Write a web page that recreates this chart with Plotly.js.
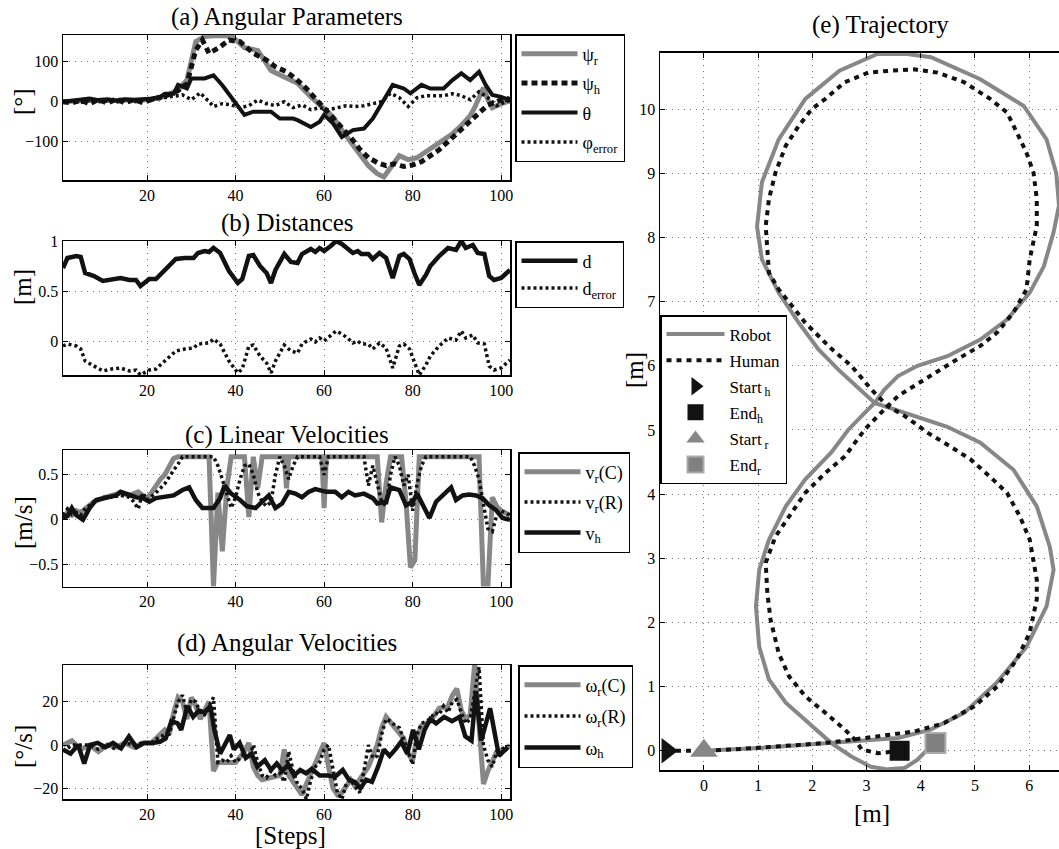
<!DOCTYPE html>
<html><head><meta charset="utf-8">
<script src="https://cdn.plot.ly/plotly-3.0.1.min.js"></script>
<style>html,body{margin:0;padding:0;background:#fff}#chart{width:1059px;height:849px}</style>
</head><body><div id="chart"></div>
<script>
// ---------- (a) Angular Parameters ----------
const psiR_x = [1,3,5,7,9,11,13,15,17,19,21,23,25,27,29,31,33,35,39,42,45,48,51,54,57,60,62,64,66,68,70,72,73.5,75,77,79,81,83,85,87,89,91,93,94,95,96,97,98,100,102];
const psiR_y = [0,2,3,4,3,2,3,4,3,4,6,10,18,30,54,150,163,165,165,135,128,78,62,46,12,-20,-38,-71,-100,-130,-160,-180,-188,-165,-135,-145,-140,-125,-110,-95,-80,-60,-35,-15,10,35,5,-15,-5,2];
const psiH_x = [1,3,5,7,9,11,13,15,17,19,21,23,25,27,29,31,32.5,34,36.5,38.5,41,44,47,49,51.5,53.5,56,58,60.5,62.5,64.5,66.5,68,70,72,74,76,78,80,82,84,86,88,90,92,94,95,97,99,101,102];
const psiH_y = [0,-3,4,-6,6,-4,7,-3,5,-2,5,10,18,28,45,129,154,121,137,154,150,121,104,87,75,58,33,8,-21,-46,-71,-96,-118,-140,-152,-160,-155,-162,-158,-150,-135,-120,-100,-80,-60,-40,-29,-8,0,10,5];
const theta_x = [1,3,5,7,9,11,13,15,17,19,21,23,24,26,27,29,30,33,35,37,39,41,42,44,48,50,53,54,57,59,60,62,64,66.5,69,71,73,75.5,78,79.5,82,84,87,89,91,93,95,96.5,98,100,102];
const theta_y = [0,3,5,8,4,6,3,6,4,5,8,12,20,20,42,33,58,58,66,41,12,-17,-33,-25,-25,-42,-42,-46,-63,-50,-33,-54,-88,-71,-67,-42,-4,42,33,21,42,33,33,54,71,54,75,42,17,12,4];
const phiE_x = [1,3,5,7,9,11,13,15,17,19,21,23,25,27,28,30,32,34,35,37,39,41,43,45,47,49,51,53,55,57,59,61,63,65,67,69,71,73,75,77,79,81,83,85,87,89,91,93,95,97,99,101,102];
const phiE_y = [0,2,-2,3,0,2,-1,3,0,2,4,8,12,15,17,5,22,0,-12,-5,-8,-15,-10,4,-5,-10,0,-15,-8,-20,-15,-20,-15,-10,-12,-10,-5,0,21,10,-12,10,15,15,15,20,15,5,25,10,-10,0,3];

// ---------- (b) Distances ----------
const dist_x = [1,2,4,5,6,8,10,12,14,16,17.5,18.5,20.5,22,24,26.5,28.5,30.5,31.5,33,34,35,36.5,38.5,40.5,41.5,43,44,45.5,47,48,49,51,52.5,54,55,57,58,59,60,61.5,62.7,64,65.3,66.5,67.6,68.4,70,71,72.5,74,75.5,77,78,79.3,80.4,81.5,83,84,86,88,89.8,91,92,93.6,94.7,96.2,97.3,98.4,100,102];
const dist_d = [0.73,0.83,0.85,0.84,0.68,0.65,0.60,0.62,0.63,0.61,0.61,0.55,0.62,0.62,0.71,0.82,0.83,0.83,0.88,0.90,0.89,0.93,0.88,0.70,0.58,0.62,0.85,0.86,0.75,0.68,0.58,0.71,0.87,0.79,0.78,0.87,0.92,0.89,0.93,0.90,0.95,1.0,0.97,0.93,0.88,0.90,0.87,0.87,0.82,0.88,0.83,0.63,0.85,0.87,0.82,0.68,0.56,0.66,0.75,0.85,0.93,0.91,1.0,0.93,0.96,0.88,0.87,0.65,0.61,0.63,0.71];
const dist_dErr = [-0.05,-0.03,-0.05,-0.08,-0.2,-0.25,-0.3,-0.28,-0.27,-0.3,-0.29,-0.34,-0.29,-0.28,-0.2,-0.1,-0.08,-0.07,-0.03,-0.02,-0.02,0.02,-0.03,-0.2,-0.32,-0.28,-0.05,-0.04,-0.15,-0.22,-0.32,-0.2,-0.04,-0.1,-0.12,-0.03,0.02,-0.01,0.03,0.0,0.05,0.1,0.07,0.03,-0.02,0.0,-0.03,-0.03,-0.08,-0.02,-0.07,-0.27,-0.05,-0.03,-0.08,-0.22,-0.34,-0.24,-0.15,-0.05,0.03,0.01,0.1,0.03,0.06,-0.02,-0.03,-0.25,-0.29,-0.27,-0.19];

// ---------- (c) Linear Velocities ----------
const vrC_x = [1,2,3,4,5,6,7,8,10,12,14,16,18,19,20,21,22,23,24,25,26,27,34,35,36,37,38,39,42,43,44,45,46,51,51.5,52,59.5,60,60.5,72,73,74,75,77.5,78.5,79.5,80.5,81.5,95,96,97,98,99,100,102];
const vrC_y = [0.02,0.08,0.05,0.1,0.08,0.12,0.16,0.2,0.24,0.27,0.3,0.27,0.31,0.27,0.24,0.3,0.38,0.45,0.5,0.58,0.68,0.7,0.7,-0.74,0.3,-0.35,0.35,0.7,0.7,0.03,0.7,0.35,0.7,0.7,0.35,0.7,0.7,0.13,0.7,0.7,-0.03,0.4,0.7,0.7,0.2,-0.53,-0.45,0.7,0.7,-0.74,-0.74,0.25,0.15,0.1,0.05];
const vrR_x = [1,2,3,4,5,6,8,10,12,14,16,17,18,19,20,22,24,25,26,27,28,35,36,37,38,39,40,41,42,43,44,45,46,47,48,49,50,51,52,53,54,59,60,61,69,70,71,72,73,74,75,76,77,78,79,80,81,82,83,93,94,95,96,97,98,99,100,102];
const vrR_y = [0.05,0.12,0.06,0.08,0.05,0.12,0.2,0.25,0.25,0.27,0.25,0.2,0.12,0.3,0.22,0.3,0.4,0.48,0.55,0.62,0.7,0.7,0.6,0.45,0.3,0.13,0.25,0.45,0.6,0.62,0.5,0.3,0.2,0.15,0.2,0.5,0.7,0.6,0.45,0.6,0.7,0.7,0.5,0.7,0.7,0.38,0.6,0.38,0.2,0.15,0.5,0.7,0.6,0.38,0.5,0.1,0.4,0.6,0.7,0.7,0.6,0.45,0.15,-0.1,-0.13,0.05,0.1,0.05];
const vh_x = [1,2,3,4,5.5,7,8.5,11,13,14,16,17.5,19,20.5,22,24,26,28,29.5,31,32.5,35,36.5,37.5,39,41,42.5,44.5,46,47.5,49,50.5,52,53.5,55,56.5,58,60.5,62.5,64,65.5,67,69,71,72,74,75,77,78.5,80,81,82.3,83.8,85.3,86.8,88.7,89.8,91.3,92.8,94.3,95.8,97.3,98.8,100.3,102];
const vh_y = [0.02,0.04,0.13,0.05,0,0.13,0.22,0.25,0.27,0.31,0.27,0.25,0.24,0.2,0.24,0.25,0.27,0.33,0.36,0.22,0.13,0.13,0.24,0.38,0.29,0.22,0.15,0.13,0.2,0.27,0.13,0.18,0.31,0.29,0.25,0.31,0.34,0.31,0.31,0.25,0.31,0.27,0.29,0.24,0.18,0.2,0.36,0.33,0.16,0.2,0.29,0.16,0.02,0.2,0.27,0.36,0.22,0.27,0.28,0.27,0.24,0.16,0.11,0.02,0.0];

// ---------- (d) Angular Velocities ----------
const wrC_x = [1,3,5,7,9,11,13,15,17,19,21,23,24,25,26,27,28,29,30,31,32,33,34,35,36,38,40,42,43,44,45,46,48,50,51,52,54,55,56,58,60,61,62,63,64,66,67,68,70,72,73,74,76,78,79,80,81,82,84,86,88,89,90,91,92,93,94,95,96,97,99,101,102];
const wrC_y = [0,2,-2,0,-3,0,-1,1,-1,1,1,5,7,5,15,22,20,12,22,18,12,16,20,-12,-8,-8,-8,-3,1,-10,-14,-16,-15,-14,-2,-14,-20,-23,-18,-8,1,-10,-20,-23,-22,-16,-19,-16,-10,0,8,13,8,3,-4,-7,4,9,11,17,18,23,26,16,12,14,37,5,-18,-12,-3,-2,0];
const wrR_x = [1,3,5,7,9,11,13,15,17,19,21,23,25,26,27,28,29,30,31,32,33,34,35,36,37,38,39,40,41,42,43,44,45,46,47,48,49,50,51,52,53,54,55,56,57,58,59,60,61,62,63,64,65,66,67,68,69,70,71,72,73,74,75,76,77,78,79,80,81,82,83,84,85,86,87,88,89,90,91,92,93,94,95,96,97,98,99,100,101];
const wrR_y = [-3,0,0,0,-2,0,-2,1,0,1,1,4,5,12,20,23,15,21,20,15,14,18,22,-8,-7,-8,-5,-8,-6,-4,-6,0,-8,-14,-15,-12,-14,-13,-17,-3,-12,-18,-20,-25,-16,-10,-8,-2,0,-12,-22,-25,-18,-16,-19,-22,-12,0,-6,-5,5,12,11,9,8,3,-3,-9,5,10,11,12,15,14,18,15,20,21,15,10,12,25,36,0,-7,-10,-3,-2,-1];
const wh_x = [1,2.7,4.4,5.8,7.1,8.8,10.6,12.3,14.1,15.9,17.6,19.4,21.1,22.9,24.2,25.5,26.9,27.7,29.1,30.4,31.7,33,34.3,35.2,36.5,37.9,38.7,39.6,40.9,42.3,43.6,44.9,46.6,48,49.3,50.6,51.9,53.2,54.6,55.9,57.2,59,60.7,62.5,64.2,65.6,66.9,68.2,69.5,70.8,72.2,73.5,74.8,76.1,77.4,78.8,80.1,81.4,82.7,84,85.3,87.1,88.9,90.6,91.9,93.3,94.3,95.5,97.5,99.5,101.5];
const wh_y = [-2,-4,0,-8.5,0,1,-1,1,-1.5,4,-1,1,1,1.5,3,11,10,7,18,13,16,15,18,7,-4,1.5,4.6,-2,1,-6,-4,-10,-7,-11.5,-8.5,-12,-9,-14,-11.5,-13,-11,-14,-14,-14.6,-11.5,-16,-17,-20,-16,-17,-10,-2,-5,-2,1.5,-4,7,-2,7,12,10,13,11,13,4,2,25,2,17,-5,-1];

// ---------- (e) Trajectory ----------
const robot_x = [0,0.5,1.14,1.8,2.35,3.0,3.58,4.18,4.8,5.4,5.95,6.32,6.45,6.38,6.14,5.71,5.1,4.49,3.88,3.15,2.48,2.11,1.75,1.38,1.07,0.98,1.07,1.38,1.87,2.5,3.2,3.75,4.19,5.09,5.9,6.32,6.5,6.55,6.45,6.27,6.01,5.59,5.10,4.49,3.94,3.58,3.33,3.15,2.97,2.66,2.35,1.87,1.51,1.2,1.02,0.96,1.02,1.2,1.51,1.93,2.35,2.72,3.08,3.39,3.7,3.94,4.1,4.27];
const robot_y = [0,0.02,0.05,0.09,0.12,0.16,0.2,0.33,0.59,1.06,1.62,2.25,2.82,3.18,3.81,4.38,4.8,5.05,5.22,5.42,5.94,6.26,6.67,7.14,7.66,8.17,8.86,9.53,10.16,10.6,10.86,10.86,10.81,10.47,10.05,9.53,9.0,8.5,8.08,7.55,7.14,6.72,6.41,6.15,6.0,5.84,5.63,5.42,5.27,5.0,4.65,4.23,3.81,3.29,2.82,2.25,1.62,1.11,0.75,0.44,0.12,-0.09,-0.25,-0.29,-0.27,-0.14,0.0,0.1];
const human_x = [-0.7,0,0.53,1.2,1.75,2.35,2.97,3.39,3.88,4.43,4.98,5.41,5.77,6.01,6.14,6.14,6.01,5.83,5.59,5.28,4.92,4.55,4.12,3.88,3.70,3.39,3.09,2.72,2.36,2.12,1.87,1.63,1.38,1.20,1.17,1.14,1.20,1.32,1.51,1.75,1.99,2.24,2.60,3.03,3.46,3.88,4.31,4.80,5.28,5.59,5.77,5.95,6.08,6.14,6.14,6.01,5.95,5.71,5.41,5.10,4.67,4.07,3.58,3.27,2.97,2.60,2.24,1.87,1.57,1.32,1.14,1.17,1.23,1.38,1.57,1.87,2.24,2.60,2.79,2.91,3.21,3.61];
const human_y = [0,0,0.02,0.05,0.09,0.13,0.2,0.25,0.30,0.43,0.69,1.0,1.42,1.84,2.36,2.67,3.29,3.65,4.02,4.27,4.54,4.74,4.96,5.11,5.22,5.37,5.63,6.0,6.26,6.46,6.67,6.93,7.19,7.45,7.76,8.18,8.6,9.01,9.43,9.74,10.0,10.16,10.42,10.57,10.60,10.62,10.57,10.42,10.16,9.95,9.64,9.32,9.01,8.6,8.18,7.66,7.19,6.83,6.52,6.31,6.1,5.79,5.53,5.27,5.01,4.59,4.33,4.02,3.66,3.34,2.93,2.46,2.04,1.52,1.16,0.85,0.59,0.33,0.17,0.02,-0.04,0.0];
const startH = [-0.68, 0], endH = [3.61, 0], startR = [0, 0], endR = [4.27, 0.12];

// ---------- layout helpers ----------
const W = 1059, H = 849;
const GREY = '#878787', BLACK = '#121212';
const FONT = 'Liberation Serif';
const DOT = '3px,3px';
const px = p => p / W, py = p => 1 - p / H;
const tickfont = {family: FONT, size: 16, color: '#000'};

function ax(domain, range, tickvals, anchor, mirror, ticktext) {
  const a = {domain, range, tickvals, anchor, autorange: false,
    ticks: 'inside', ticklen: 5, tickwidth: 1, tickcolor: '#000',
    showline: true, linecolor: '#000', linewidth: 1.5, mirror: mirror,
    showgrid: true, gridcolor: '#777', gridwidth: 1, griddash: '1px,5px',
    zeroline: false, tickfont, fixedrange: true};
  if (ticktext) a.ticktext = ticktext;
  return a;
}
const XD = [px(63), px(510)];
const stepTicks = [20, 40, 60, 80, 100];

function line(x, y, name, color, width, dash, xa, ya, lg) {
  return {x, y, name, type: 'scatter', mode: 'lines', xaxis: xa, yaxis: ya,
    line: {color, width, dash: dash || 'solid'}, legend: lg, legendgroup: lg + name,
    hoverinfo: 'skip'};
}

const traces = [
  line(psiR_x, psiR_y, 'ψ<sub>r</sub>', GREY, 5, null, 'x', 'y', 'legend'),
  line(psiH_x, psiH_y, 'ψ<sub>h</sub>', BLACK, 5, '6px,4px', 'x', 'y', 'legend'),
  line(theta_x, theta_y, 'θ', BLACK, 4, null, 'x', 'y', 'legend'),
  line(phiE_x, phiE_y, 'φ<sub>error</sub>', BLACK, 3.5, DOT, 'x', 'y', 'legend'),

  line(dist_x, dist_d, 'd', BLACK, 4.5, null, 'x2', 'y2', 'legend2'),
  line(dist_x, dist_dErr, 'd<sub>error</sub>', BLACK, 3.5, DOT, 'x2', 'y2', 'legend2'),

  line(vrC_x, vrC_y, 'v<sub>r</sub>(C)', GREY, 5, null, 'x3', 'y3', 'legend3'),
  line(vrR_x, vrR_y, 'v<sub>r</sub>(R)', BLACK, 3.5, DOT, 'x3', 'y3', 'legend3'),
  line(vh_x, vh_y, 'v<sub>h</sub>', BLACK, 4.5, null, 'x3', 'y3', 'legend3'),

  line(wrC_x, wrC_y, 'ω<sub>r</sub>(C)', GREY, 5, null, 'x4', 'y4', 'legend4'),
  line(wrR_x, wrR_y, 'ω<sub>r</sub>(R)', BLACK, 3.5, DOT, 'x4', 'y4', 'legend4'),
  line(wh_x, wh_y, 'ω<sub>h</sub>', BLACK, 4.5, null, 'x4', 'y4', 'legend4'),

  line(robot_x, robot_y, 'Robot', GREY, 4, null, 'x5', 'y5', 'legend5'),
  line(human_x, human_y, 'Human', BLACK, 4, '5px,5px', 'x5', 'y5', 'legend5'),
  {x: [startH[0]], y: [startH[1]], name: 'Start<sub> h</sub>', type: 'scatter', mode: 'markers', xaxis: 'x5', yaxis: 'y5',
   marker: {symbol: 'triangle-right', size: 22, color: BLACK}, legend: 'legend5', legendgroup: 'sh', hoverinfo: 'skip'},
  {x: [endH[0]], y: [endH[1]], name: 'End<sub>h</sub>', type: 'scatter', mode: 'markers', xaxis: 'x5', yaxis: 'y5',
   marker: {symbol: 'square', size: 20, color: BLACK}, legend: 'legend5', legendgroup: 'eh', hoverinfo: 'skip'},
  {x: [startR[0]], y: [startR[1]], name: 'Start<sub> r</sub>', type: 'scatter', mode: 'markers', xaxis: 'x5', yaxis: 'y5',
   marker: {symbol: 'triangle-up', size: 24, color: GREY}, legend: 'legend5', legendgroup: 'sr', hoverinfo: 'skip'},
  {x: [endR[0]], y: [endR[1]], name: 'End<sub>r</sub>', type: 'scatter', mode: 'markers', xaxis: 'x5', yaxis: 'y5',
   marker: {symbol: 'square', size: 20, color: '#808080', line: {color: '#ababab', width: 2}}, legend: 'legend5', legendgroup: 'er', hoverinfo: 'skip'}
];

function leg(xp, yp, gap, size, iw) {
  return {x: px(xp), y: py(yp), xanchor: 'left', yanchor: 'top', bgcolor: '#fff',
    bordercolor: '#000', borderwidth: 1.5, font: {family: FONT, size: size || 18, color: '#000'},
    tracegroupgap: gap, traceorder: 'grouped', itemwidth: iw || 56, itemclick: false, itemdoubleclick: false};
}

function ann(text, xp, yp, size, angle) {
  return {text, x: px(xp), y: py(yp), xref: 'paper', yref: 'paper', showarrow: false,
    xanchor: 'center', yanchor: 'middle', textangle: angle || 0,
    font: {family: FONT, size: size, color: '#000'}};
}

const layout = {
  width: W, height: H, margin: {l: 0, r: 0, t: 0, b: 0},
  font: {family: FONT, color: '#000'},
  paper_bgcolor: '#fff', plot_bgcolor: '#fff', showlegend: true, hovermode: false,
  xaxis: ax(XD, [1, 102], stepTicks, 'y', 'ticks'),
  yaxis: ax([py(180), py(35)], [-195.7, 166.7], [-100, 0, 100], 'x', 'ticks'),
  xaxis2: ax(XD, [1, 102], stepTicks, 'y2', 'ticks'),
  yaxis2: ax([py(375), py(241)], [-0.34, 1.0], [0, 0.5, 1], 'x2', 'ticks', ['0', '0.5', '1']),
  xaxis3: ax(XD, [1, 102], stepTicks, 'y3', 'ticks'),
  yaxis3: ax([py(586.5), py(450)], [-0.742, 0.775], [-0.5, 0, 0.5], 'x3', 'ticks', ['\u22120.5', '0', '0.5']),
  xaxis4: ax(XD, [1, 102], stepTicks, 'y4', 'ticks'),
  yaxis4: ax([py(799), py(665)], [-24.9, 36.95], [-20, 0, 20], 'x4', 'ticks'),
  xaxis5: ax([px(660), 1], [-0.81, 6.55], [0, 1, 2, 3, 4, 5, 6], 'y5', 'ticks'),
  yaxis5: ax([py(770), py(52.7)], [-0.30, 10.88], [0, 1, 2, 3, 4, 5, 6, 7, 8, 9, 10], 'x5', false),
  legend: leg(515, 34, 3),
  legend2: leg(515, 241, 1),
  legend3: leg(518, 452, 4),
  legend4: leg(518, 665, 5),
  legend5: leg(660, 315, 1, 17, 58),
  annotations: [
    ann('(a) Angular Parameters', 287, 17, 25),
    ann('(b) Distances', 287, 223, 25),
    ann('(c) Linear Velocities', 287, 435, 25),
    ann('(d) Angular Velocities', 287, 643, 25),
    ann('(e) Trajectory', 880, 25, 25),
    ann('[°]', 23, 102, 25, -90),
    ann('[m]', 23, 287, 25, -90),
    ann('[m/s]', 23, 523, 25, -90),
    ann('[°/s]', 23, 747, 25, -90),
    ann('[Steps]', 290, 835, 25),
    ann('[m]', 634, 370, 25, -90),
    ann('[m]', 872, 813, 25)
  ]
};

Plotly.newPlot('chart', traces, layout, {displayModeBar: false, staticPlot: true});
</script>
</body></html>
